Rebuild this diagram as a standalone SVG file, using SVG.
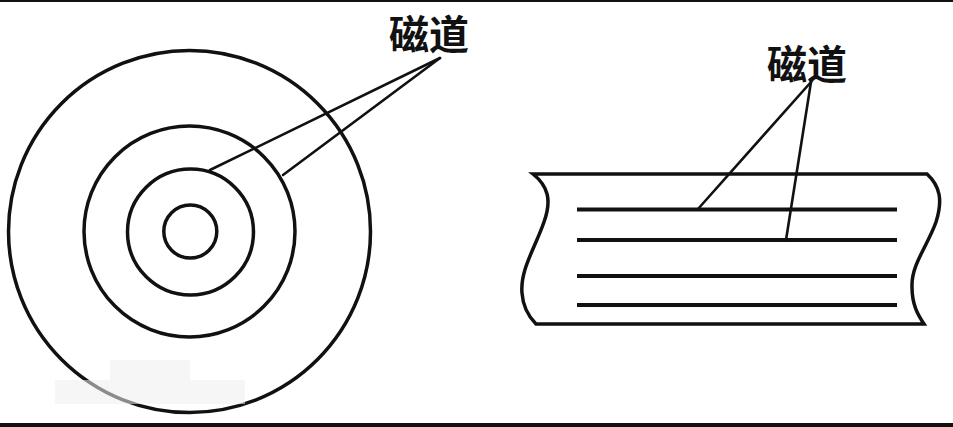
<svg xmlns="http://www.w3.org/2000/svg" width="953" height="427" viewBox="0 0 953 427">
<style>
.s{fill:none;stroke:#111;stroke-width:3.5}
.ld{fill:none;stroke:#111;stroke-width:2.6;stroke-linecap:round}
.tr{stroke:#111;stroke-width:4;stroke-linecap:butt}
.lbl{font-family:"Noto Sans CJK SC","Noto Sans CJK JP",sans-serif;font-size:40px;font-weight:bold;fill:#111}
</style>
<rect x="0" y="0" width="953" height="427" fill="#fff"/>
<rect x="0" y="0" width="953" height="2" fill="#111"/>
<rect x="0" y="423" width="953" height="4" fill="#111"/>
<g id="disk">
<circle class="s" cx="189.5" cy="231.5" r="181"/>
<circle class="s" cx="189.5" cy="231.5" r="105.5"/>
<circle class="s" cx="190.5" cy="232" r="63"/>
<circle class="s" cx="190.3" cy="231.5" r="26.5"/>
</g>
<g id="smudge" fill="#f0f0f0" opacity="0.55">
<rect x="55" y="380" width="190" height="24"/>
<rect x="110" y="360" width="80" height="22"/>
</g>
<g id="tape">
<path class="s" d="M533,174 L927,174 C940,186 943,200 936,222 C928,245 911,265 912,287 C912,305 918,315 924,324 L536,324 C530,318 523,308 522,293 C520,270 535,248 544,222 C552,200 548,186 533,174 Z"/>
<line class="tr" x1="577" y1="209.5" x2="897" y2="209.5"/>
<line class="tr" x1="577" y1="240" x2="897" y2="240"/>
<line class="tr" x1="577" y1="276" x2="897" y2="276"/>
<line class="tr" x1="577" y1="305" x2="897" y2="305"/>
</g>
<g id="label-disk">
<text class="lbl" x="389" y="49">磁道</text>
</g>
<g id="label-tape">
<text class="lbl" x="767" y="79">磁道</text>
</g>
<g id="connectors">
<line class="ld" x1="440" y1="58" x2="210" y2="170"/>
<line class="ld" x1="440" y1="58" x2="283" y2="175"/>
<line class="ld" x1="811" y1="82" x2="698" y2="209"/>
<line class="ld" x1="811" y1="82" x2="786" y2="240"/>
</g>
</svg>
